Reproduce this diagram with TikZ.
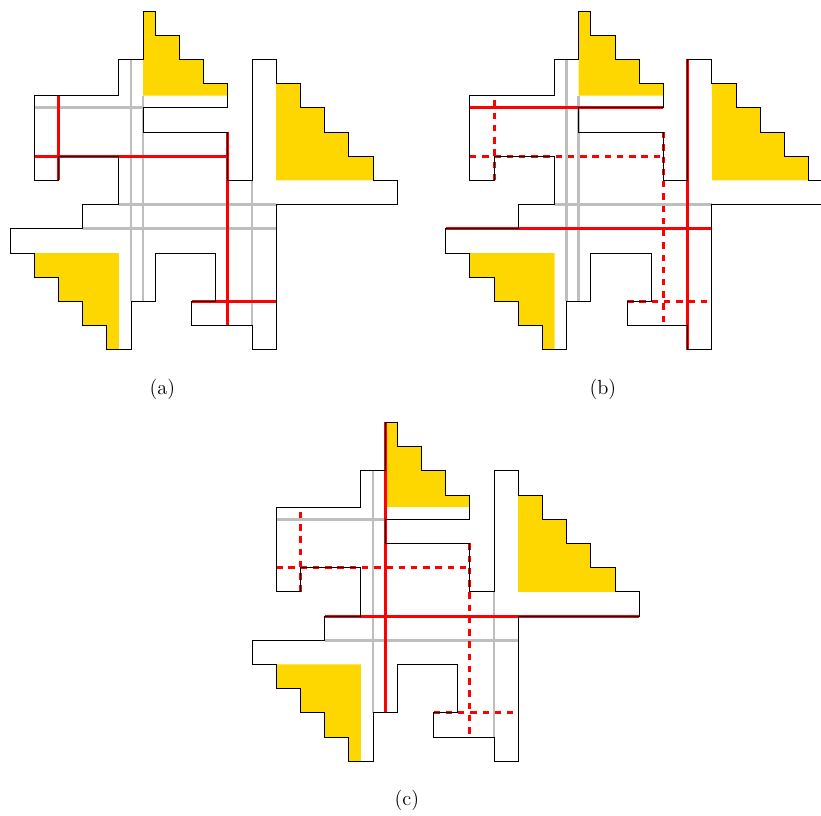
\documentclass[tikz,border=0pt]{standalone}
\definecolor{goldc}{RGB}{255,215,0}
\definecolor{grayc}{RGB}{190,190,190}
\tikzset{
  outl/.style={draw=black, line width=0.55pt, line join=miter},
  grayln/.style={draw=grayc, line width=1.6pt},
  redln/.style={draw=red, line width=1.8pt},
  reddsh/.style={draw=red, line width=1.8pt, dash pattern=on 3.8pt off 3.4pt},
  lbl/.style={font=\large, inner sep=0pt}
}
\newcommand\YellowParts{%
  \fill[goldc] (11,0)--(12,0)--(12,2)--(14,2)--(14,4)--(16,4)--(16,6)--(18,6)--(18,7)--(11,7)--cycle;
  \fill[goldc] (22,6)--(24,6)--(24,8)--(26,8)--(26,10)--(28,10)--(28,12)--(30,12)--(30,14)--(22,14)--cycle;
  \fill[goldc] (2,20)--(9,20)--(9,28)--(8,28)--(8,26)--(6,26)--(6,24)--(4,24)--(4,22)--(2,22)--cycle;
}
\newcommand\OutlinePart{%
  \draw[outl] (11,0)--(12,0)--(12,2)--(14,2)--(14,4)--(16,4)--(16,6)--(18,6)--(18,8)--(11,8)--(11,10)--(18,10)--(18,14)--(20,14)--(20,4)--(22,4)--(22,6)--(24,6)--(24,8)--(26,8)--(26,10)--(28,10)--(28,12)--(30,12)--(30,14)--(32,14)--(32,16)--(22,16)--(22,28)--(20,28)--(20,26)--(15,26)--(15,24)--(17,24)--(17,20)--(12,20)--(12,24)--(10,24)--(10,28)--(8,28)--(8,26)--(6,26)--(6,24)--(4,24)--(4,22)--(2,22)--(2,20)--(0,20)--(0,18)--(6,18)--(6,16)--(9,16)--(9,12)--(4,12)--(4,14)--(2,14)--(2,7)--(9,7)--(9,4)--(11,4)--cycle;
}
\newcommand\OldRed[1]{%
  \draw[#1] (4,14)--(4,7);
  \draw[#1] (2,12)--(18,12);
  \draw[#1] (18,10)--(18,26);
  \draw[#1] (15,24)--(22,24);
}
\begin{document}
\begin{tikzpicture}[x=0.25cm, y=-0.25cm]
\useasboundingbox (-0.826,-0.909) rectangle (67.02,66.45);
% panel (a)
\begin{scope}
  \YellowParts
  \draw[grayln] (10,4)--(10,24);
  \draw[grayln] (11,7)--(11,24);
  \draw[grayln] (2,8)--(11,8);
  \draw[grayln] (9,16)--(22,16);
  \draw[grayln] (6,18)--(22,18);
  \draw[grayln] (20,14)--(20,26);
  \OldRed{redln}
  \OutlinePart
  \node[lbl] (la) at (12.6,31.3) {(a)};
\end{scope}
% panel (b)
\begin{scope}[shift={(36,0)}]
  \YellowParts
  \draw[grayln] (10,4)--(10,24);
  \draw[grayln] (11,7)--(11,24);
  \draw[grayln] (9,16)--(22,16);
  \draw[redln] (2,8)--(18,8);
  \draw[redln] (20,4)--(20,28);
  \draw[redln] (0,18)--(22,18);
  \OldRed{reddsh}
  \OutlinePart
  \node[lbl] (lb) at (13.0,31.3) {(b)};
\end{scope}
% panel (c)
\begin{scope}[shift={(20,34)}]
  \YellowParts
  \draw[grayln] (10,4)--(10,24);
  \draw[grayln] (2,8)--(11,8);
  \draw[grayln] (6,18)--(22,18);
  \draw[grayln] (20,14)--(20,26);
  \draw[redln] (11,0)--(11,24);
  \draw[redln] (6,16)--(32,16);
  \OldRed{reddsh}
  \OutlinePart
  \node[lbl] (lc) at (12.8,31.2) {(c)};
\end{scope}
\end{tikzpicture}
\end{document}
